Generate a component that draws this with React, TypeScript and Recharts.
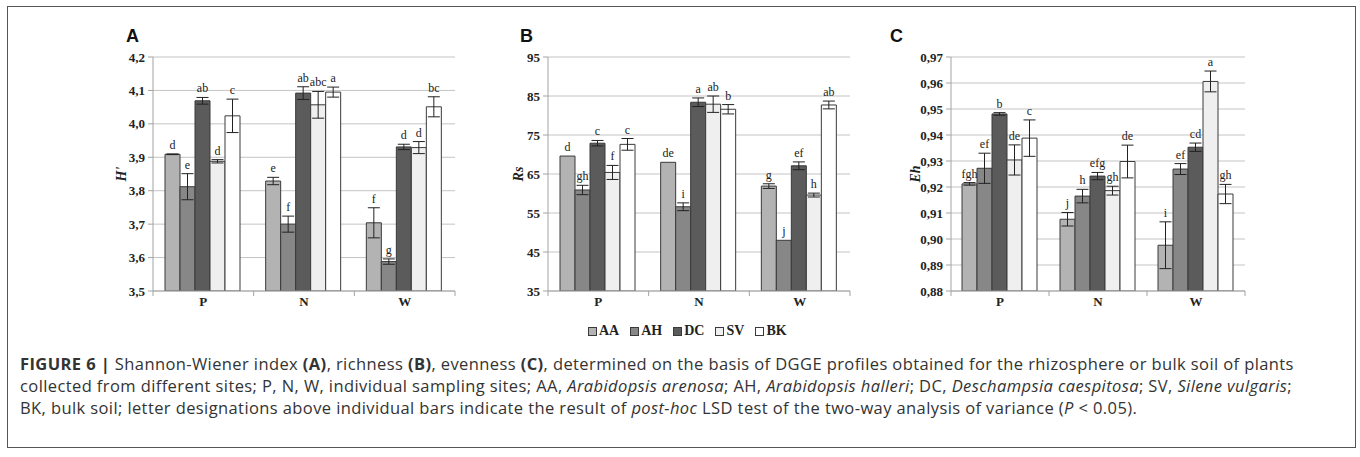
import React from 'react';
import { BarChart, Bar, XAxis, YAxis, CartesianGrid, ErrorBar, LabelList, Legend } from 'recharts';

const sites = ['P', 'N', 'W'];
const seriesNames = ['AA', 'AH', 'DC', 'SV', 'BK'];
const seriesFills = ['#b3b3b3', '#878787', '#5b5b5b', '#efefef', '#ffffff'];

// A: Shannon-Wiener index H' (rows = AA, AH, DC, SV, BK; columns = P, N, W)
const shannonValues = [
  [3.909, 3.829, 3.704],
  [3.812, 3.7, 3.588],
  [4.069, 4.092, 3.931],
  [3.888, 4.057, 3.929],
  [4.024, 4.095, 4.051],
];
const shannonErrors = [
  [0.001, 0.011, 0.045],
  [0.039, 0.024, 0.008],
  [0.01, 0.019, 0.008],
  [0.005, 0.04, 0.018],
  [0.05, 0.015, 0.03],
];
const shannonLetters = [
  ['d', 'e', 'f'],
  ['e', 'f', 'g'],
  ['ab', 'ab', 'd'],
  ['d', 'abc', 'd'],
  ['c', 'a', 'bc'],
];
const shannonTicks = [3.5, 3.6, 3.7, 3.8, 3.9, 4.0, 4.1, 4.2];

// B: richness Rs
const richnessValues = [
  [69.6, 68.0, 61.9],
  [60.9, 56.6, 48.0],
  [72.9, 83.4, 67.1],
  [65.4, 82.9, 59.6],
  [72.6, 81.6, 82.7],
];
const richnessErrors = [
  [0, 0, 0.6],
  [1.2, 1.0, 0],
  [0.7, 1.1, 1.0],
  [1.8, 2.1, 0.5],
  [1.5, 1.2, 1.0],
];
const richnessLetters = [
  ['d', 'de', 'g'],
  ['gh', 'i', 'j'],
  ['c', 'a', 'ef'],
  ['f', 'ab', 'h'],
  ['c', 'b', 'ab'],
];
const richnessTicks = [35, 45, 55, 65, 75, 85, 95];

// C: evenness Eh
const evennessValues = [
  [0.9212, 0.9076, 0.8976],
  [0.9272, 0.9165, 0.9269],
  [0.9481, 0.9242, 0.9353],
  [0.9304, 0.9186, 0.9606],
  [0.9388, 0.9298, 0.9173],
];
const evennessErrors = [
  [0.0005, 0.0026, 0.009],
  [0.0058, 0.0026, 0.0021],
  [0.0005, 0.0014, 0.0016],
  [0.0058, 0.0017, 0.004],
  [0.007, 0.0063, 0.0037],
];
const evennessLetters = [
  ['fgh', 'j', 'i'],
  ['ef', 'h', 'ef'],
  ['b', 'efg', 'cd'],
  ['de', 'gh', 'a'],
  ['c', 'de', 'gh'],
];
const evennessTicks = [0.88, 0.89, 0.9, 0.91, 0.92, 0.93, 0.94, 0.95, 0.96, 0.97];

const SERIF = "'Liberation Serif', 'Times New Roman', serif";
const SANS = "'Liberation Sans', Arial, sans-serif";
const CAPTION_FONT = "'Open Sans', 'Liberation Sans', sans-serif";
const AXIS = '#a3a3a3';
const GRID = '#c4c4c4';
const OUTLINE = '#3a3a3a';
const CHART_W = 400;
const CHART_H = 300;
const TOP = 27;
const PLOT_H = 234;

const buildRows = (values: number[][], errors: number[][], letters: string[][]) =>
  sites.map((site, i) => {
    const row: Record<string, any> = { site };
    seriesNames.forEach((name, s) => {
      row[name] = values[s][i];
      row[name + 'Err'] = errors[s][i];
      row[name + 'Letter'] = letters[s][i];
    });
    return row;
  });

const comma = (decimals: number) => (v: number) => v.toFixed(decimals).replace('.', ',');

interface PanelProps {
  left: number;
  plotWidth: number;
  values: number[][];
  errors: number[][];
  letters: string[][];
  ticks: number[];
  decimals: number;
  title: string;
  titleOffset: number;
  gap: number;
  legend?: boolean;
}

const Panel = ({ left, plotWidth, values, errors, letters, ticks, decimals, title, titleOffset, gap, legend }: PanelProps) => {
  const rows = buildRows(values, errors, letters);
  const domain = [ticks[0], ticks[ticks.length - 1]];
  const pxPerUnit = PLOT_H / (domain[1] - domain[0]);
  const band = plotWidth / sites.length;

  const siteTick = (props: any) => {
    const { x, y, payload, index } = props;
    return (
      <g>
        {index === 0 && <line x1={x - band / 2} x2={x - band / 2} y1={y - 6} y2={y - 1} stroke={AXIS} />}
        <line x1={x + band / 2} x2={x + band / 2} y1={y - 6} y2={y - 1} stroke={AXIS} />
        <text x={x} y={y} dy="0.71em" textAnchor="middle" fontFamily={SERIF} fontWeight="bold" fontSize={13} fill="#222">
          {payload.value}
        </text>
      </g>
    );
  };

  const letterLabel = (s: number) => (props: any) => {
    const { x, y, width, index, value } = props;
    const errTop = Number(y) - errors[s][index] * pxPerUnit;
    return (
      <text x={Number(x) + Number(width) / 2} y={errTop - 5} textAnchor="middle" fontFamily={SERIF} fontSize={12} fill="#222">
        {value}
      </text>
    );
  };

  const legendContent = () => (
    <div style={{ display: 'flex', gap: 11, fontFamily: SERIF, fontWeight: 'bold', fontSize: 14, color: '#222' }}>
      {seriesNames.map((name, s) => (
        <div key={name} style={{ display: 'flex', alignItems: 'center' }}>
          <span style={{ width: 7, height: 7, background: seriesFills[s], border: `1px solid ${OUTLINE}`, marginRight: 2 }} />
          {name}
        </div>
      ))}
    </div>
  );

  return (
    <div style={{ position: 'absolute', left, top: 30 }}>
      <BarChart
        width={CHART_W}
        height={CHART_H}
        data={rows}
        margin={{ top: TOP, left: 23, right: CHART_W - 63 - plotWidth, bottom: CHART_H - TOP - PLOT_H - 30 }}
        barGap={0}
        barCategoryGap={gap}
      >
        <CartesianGrid vertical={false} stroke={GRID} />
        <XAxis
          dataKey="site"
          height={30}
          stroke={AXIS}
          tickLine={false}
          tickSize={5}
          tickMargin={1}
          tick={siteTick}
          interval={0}
        />
        <YAxis
          width={40}
          type="number"
          domain={domain}
          ticks={ticks}
          interval={0}
          allowDataOverflow
          stroke={AXIS}
          tickSize={5}
          tickMargin={3}
          tickFormatter={comma(decimals)}
          tick={{ fontFamily: SERIF, fontWeight: 'bold', fontSize: 13, fill: '#222' }}
          label={{
            value: title,
            angle: -90,
            position: 'insideLeft',
            offset: titleOffset,
            style: { textAnchor: 'middle', fontFamily: SERIF, fontWeight: 'bold', fontStyle: 'italic', fontSize: 14, fill: '#222' },
          }}
        />
        {seriesNames.map((name, s) => (
          <Bar key={name} dataKey={name} fill={seriesFills[s]} stroke={OUTLINE} strokeWidth={1} isAnimationActive={false}>
            <ErrorBar dataKey={name + 'Err'} width={6} stroke="#222" strokeWidth={1} direction="y" />
            <LabelList dataKey={name + 'Letter'} content={letterLabel(s)} />
          </Bar>
        ))}
        {legend && (
          <Legend
            layout="horizontal"
            verticalAlign="middle"
            align="center"
            content={legendContent}
            wrapperStyle={{ left: 103, top: 293, width: 'auto', height: 'auto' }}
          />
        )}
      </BarChart>
    </div>
  );
};

const captionStyle: React.CSSProperties = {
  position: 'absolute',
  left: 20,
  top: 353,
  fontFamily: CAPTION_FONT,
  fontSize: 16.5,
  letterSpacing: 0.4,
  lineHeight: '22px',
  color: '#333',
  whiteSpace: 'nowrap',
};

export default function App() {
  return (
    <div style={{ position: 'absolute', left: 0, top: 0, width: 1360, height: 457, background: '#fff', overflow: 'hidden' }}>
      <svg width={1360} height={457} style={{ position: 'absolute', left: 0, top: 0 }}>
        <rect x={7.5} y={6.5} width={1348} height={441} fill="none" stroke="#555" />
        <g fontFamily={SANS} fontWeight="bold" fontSize={18} fill="#111">
          <text x={126} y={42}>A</text>
          <text x={520} y={42}>B</text>
          <text x={890} y={42}>C</text>
        </g>
      </svg>
      <Panel left={90} plotWidth={302} values={shannonValues} errors={shannonErrors} letters={shannonLetters}
        ticks={shannonTicks} decimals={1} title="H'" titleOffset={8} gap={12} />
      <Panel left={485} plotWidth={302} values={richnessValues} errors={richnessErrors} letters={richnessLetters}
        ticks={richnessTicks} decimals={0} title="Rs" titleOffset={10} gap={12} legend />
      <Panel left={888} plotWidth={294} values={evennessValues} errors={evennessErrors} letters={evennessLetters}
        ticks={evennessTicks} decimals={2} title="Eh" titleOffset={4} gap={11} />
      <div style={captionStyle}>
        <div>
          <b>FIGURE 6 |</b> Shannon-Wiener index <b>(A)</b>, richness <b>(B)</b>, evenness <b>(C)</b>, determined on the basis of DGGE profiles obtained for the rhizosphere or bulk soil of plants
        </div>
        <div>
          collected from different sites; P, N, W, individual sampling sites; AA, <i>Arabidopsis arenosa</i>; AH, <i>Arabidopsis halleri</i>; DC, <i>Deschampsia caespitosa</i>; SV, <i>Silene vulgaris</i>;
        </div>
        <div>
          BK, bulk soil; letter designations above individual bars indicate the result of <i>post-hoc</i> LSD test of the two-way analysis of variance (<i>P</i> &lt; 0.05).
        </div>
      </div>
    </div>
  );
}
